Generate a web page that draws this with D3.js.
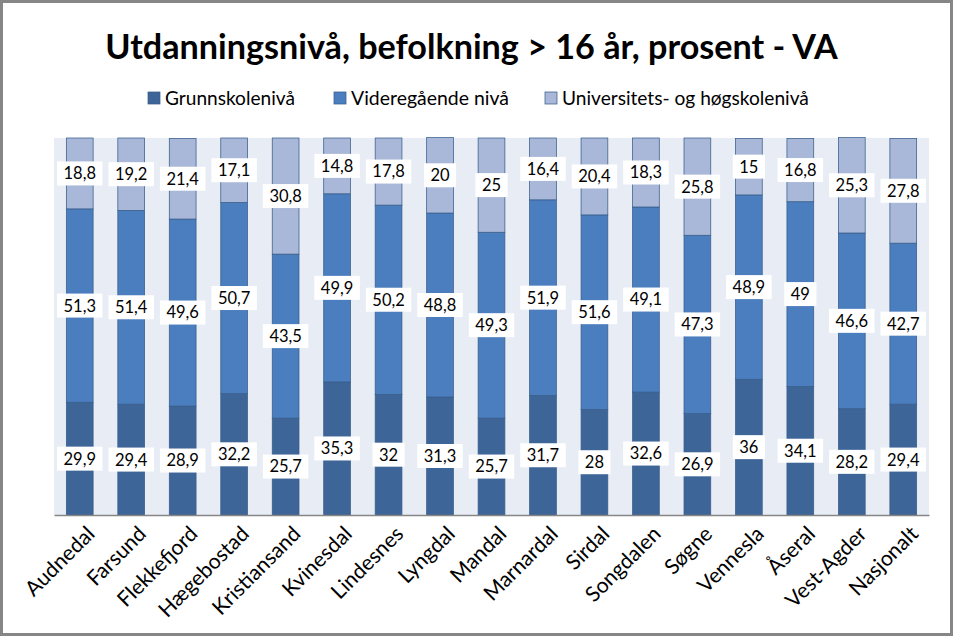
<!DOCTYPE html>
<html><head><meta charset="utf-8">
<script src="https://cdn.jsdelivr.net/npm/d3@7"></script>
<style>body{margin:0;background:#fff}svg{display:block}</style>
</head><body>
<svg id="c" width="953" height="636"></svg>
<script>
const categories = ["Audnedal","Farsund","Flekkefjord","Hægebostad","Kristiansand","Kvinesdal","Lindesnes","Lyngdal","Mandal","Marnardal","Sirdal","Songdalen","Søgne","Vennesla","Åseral","Vest-Agder","Nasjonalt"];
const seriesNames = ["Grunnskolenivå","Videregående nivå","Universitets- og høgskolenivå"];
const grunnskole = [29.9,29.4,28.9,32.2,25.7,35.3,32,31.3,25.7,31.7,28,32.6,26.9,36,34.1,28.2,29.4];
const videregaende = [51.3,51.4,49.6,50.7,43.5,49.9,50.2,48.8,49.3,51.9,51.6,49.1,47.3,48.9,49,46.6,42.7];
const universitet = [18.8,19.2,21.4,17.1,30.8,14.8,17.8,20,25,16.4,20.4,18.3,25.8,15,16.8,25.3,27.8];
const colors = ["#3e6598","#4a7ebf","#a9b8d8"];
const title = "Utdanningsnivå, befolkning > 16 år, prosent - VA";

const svg = d3.select("#c");
const W = 953, H = 636;
const font = "Lato, 'Open Sans', sans-serif";
const plot = {l:54, r:929, t:138, b:515};

svg.append("rect").attr("x",1.5).attr("y",1.5).attr("width",W-3).attr("height",H-3)
  .attr("fill","#fff").attr("stroke","#868686").attr("stroke-width",3);

function fit(sel, target){ const w = sel.node().getComputedTextLength(); const fs = +sel.attr("font-size"); const nf = fs*target/w; sel.attr("font-size", nf); return nf; }

// Title
const t = svg.append("text").attr("x",(105+838)/2).attr("y",59).attr("text-anchor","middle")
  .attr("font-family",font).attr("font-weight","bold").attr("font-size",32).attr("fill","#000").text(title);
fit(t, 733);

const rows = categories.map((c,i)=>({cat:c, v:[grunnskole[i], videregaende[i], universitet[i]]}));
const stack = d3.stack().keys([0,1,2]).value((d,k)=>d.v[k]);
const stacked = stack(rows);

const x = d3.scaleBand().domain(categories).range([plot.l, plot.r]).paddingInner(0.48).paddingOuter(0.24);
const y = d3.scaleLinear().domain([0,100]).range([plot.b, plot.t]);

svg.append("rect").attr("x",plot.l).attr("y",plot.t).attr("width",plot.r-plot.l).attr("height",plot.b-plot.t).attr("fill","#e8edf5");

const g = svg.append("g");
stacked.forEach((s,k)=>{
  g.selectAll(null).data(s).join("rect")
    .attr("x",d=>x(d.data.cat)).attr("width",x.bandwidth())
    .attr("y",d=>y(d[1])).attr("height",d=>y(d[0])-y(d[1]))
    .attr("fill",colors[k]).attr("stroke","#385d8a").attr("stroke-width",0.75);
});

// axis
const xAxis = d3.axisBottom(x).tickSize(0).tickFormat("");
svg.append("g").attr("transform",`translate(0,${plot.b})`).call(xAxis)
  .call(a=>a.select(".domain").attr("stroke","#868686").attr("stroke-width",1.5));

// labels
const fmt = v => String(v).replace(".",",");
const lg = svg.append("g").attr("font-family",font).attr("font-size",16.5);
stacked.forEach((s,k)=>{
  s.forEach(d=>{
    const cx = x(d.data.cat)+x.bandwidth()/2, cy = y((d[0]+d[1])/2);
    const txt = lg.append("text").attr("x",cx).attr("y",cy).attr("dy","0.36em").attr("text-anchor","middle").attr("fill","#000").text(fmt(d.data.v[k]));
    const w = txt.node().getComputedTextLength();
    lg.insert("rect","text").attr("x",cx-w/2-6.5).attr("y",cy-12).attr("width",w+13).attr("height",24).attr("fill","#fff");
  });
});

// x tick labels
const probe = svg.append("text").attr("font-family",font).attr("font-size",18).text(categories[0]);
const tickFs = fit(probe, 88);
probe.remove();
svg.append("g").attr("font-family",font).attr("font-size",tickFs).selectAll("text").data(categories).join("text")
  .attr("transform",d=>`translate(${x(d)+x.bandwidth()/2+11},${plot.b+15}) rotate(-45)`)
  .attr("text-anchor","end").attr("dy","0.35em").attr("fill","#000").text(d=>d);

// legend
const legX = [148,334,545];
const legW = [130,158,247];
const leg = svg.append("g").attr("font-family",font);
seriesNames.forEach((n,i)=>{
  leg.append("rect").attr("x",legX[i]).attr("y",92).attr("width",12).attr("height",12).attr("fill",colors[i]).attr("stroke","#385d8a").attr("stroke-width",0.75);
  const tt = leg.append("text").attr("x",legX[i]+17).attr("y",105).attr("font-size",18).attr("fill","#000").text(n);
  fit(tt, legW[i]);
});
</script>
</body></html>
